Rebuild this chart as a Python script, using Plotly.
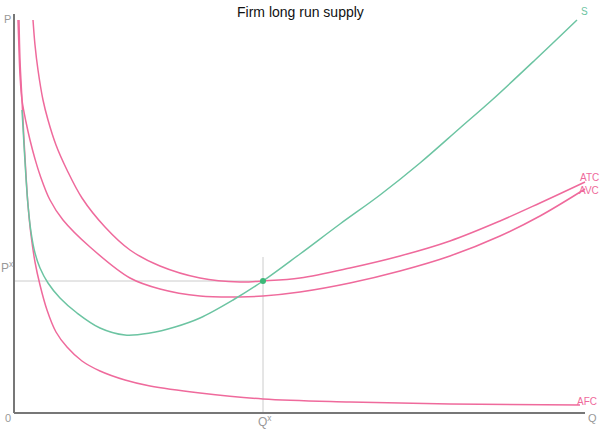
import plotly.graph_objects as go

# ---- data ----
q_afc = [0.5, 0.6, 0.8, 1.0, 1.2, 1.4, 1.7, 2.1, 2.6, 3.3, 4.2, 5.3, 6.8, 8.6, 11.1, 13.6,
         18.6, 24.9, 33.6, 43.6, 56.6]
p_afc = [39.3, 35.3, 31.3, 27.3, 23.8, 20.8, 17.8, 15.1, 12.8, 10.3, 8.1, 6.6, 5.2, 4.2, 3.3, 2.7,
         2.0, 1.4, 1.1, 0.9, 0.8]

q_s = [0.8, 1.0, 1.2, 1.4, 1.7, 2.1, 2.6, 3.4, 4.6, 6.3, 8.6, 11.1, 13.6, 16.1, 18.6, 21.9,
       24.9, 28.6, 32.6, 36.6, 40.6, 44.6, 47.8, 52.1, 56.3]
p_s = [30.3, 26.8, 23.5, 20.8, 18.1, 16.0, 14.5, 13.0, 11.5, 10.0, 8.5, 7.8, 8.0, 8.6, 9.5, 11.3,
       13.2, 15.9, 18.9, 21.8, 25.0, 28.5, 31.3, 35.3, 39.3]

q_atc = [1.9, 2.1, 2.4, 2.9, 3.4, 4.2, 5.3, 6.8, 9.1, 11.6, 14.6, 18.6, 22.6, 24.9, 28.6,
         33.6, 38.6, 43.6, 48.6, 52.6, 57.1]
p_atc = [39.3, 36.8, 34.3, 31.3, 29.3, 26.8, 24.3, 21.5, 18.6, 16.3, 14.7, 13.5, 13.1, 13.2, 13.5,
         14.5, 15.7, 17.2, 19.2, 21.0, 23.1]

q_avc = [0.4, 0.5, 0.6, 0.8, 1.2, 1.6, 2.1, 2.6, 3.6, 4.9, 7.6, 11.6, 14.6, 18.6, 22.6, 24.9,
         28.6, 33.6, 38.6, 43.6, 48.6, 52.6, 57.1]
p_avc = [39.3, 36.3, 33.8, 31.3, 29.1, 27.3, 25.4, 23.8, 21.3, 19.3, 16.6, 13.5, 12.4, 11.7, 11.6, 11.7,
         12.1, 13.0, 14.2, 15.7, 17.7, 19.7, 22.4]

q_star = 24.9
p_star = 13.2
q_max = 57.1
p_max = 39.9
guide_top = 15.6

PINK = "#ef6a9c"
GREEN = "#6cc4a2"
AXIS = "#777777"
GUIDE = "#cccccc"
LABEL = "#999999"

fig = go.Figure()

# guide lines
fig.add_shape(type="line", x0=q_star, x1=q_star, y0=0, y1=guide_top,
              line=dict(color=GUIDE, width=1), layer="below")
fig.add_shape(type="line", x0=0, x1=q_star, y0=p_star, y1=p_star,
              line=dict(color=GUIDE, width=1), layer="below")

for q, p, c in [(q_afc, p_afc, PINK), (q_avc, p_avc, PINK), (q_atc, p_atc, PINK), (q_s, p_s, GREEN)]:
    fig.add_trace(go.Scatter(x=q, y=p, mode="lines",
                             line=dict(color=c, width=1.5, shape="spline", smoothing=1.0),
                             hoverinfo="skip", showlegend=False))

fig.add_trace(go.Scatter(x=[q_star], y=[p_star], mode="markers",
                         marker=dict(color="#3cb878", size=6), showlegend=False))

# axes lines
fig.add_shape(type="line", x0=0, x1=0, y0=0, y1=p_max, line=dict(color=AXIS, width=2))
fig.add_shape(type="line", x0=0, x1=q_max, y0=0, y1=0, line=dict(color=AXIS, width=2))

W, H = 600, 429


def ann(text, px, py, color, size=10, xanchor="center"):
    fig.add_annotation(text=text, x=px / W, y=1 - py / H, xref="paper", yref="paper",
                       showarrow=False, xanchor=xanchor, yanchor="middle",
                       font=dict(color=color, size=size, family="Liberation Sans, Arial, sans-serif"))


ann("Firm long run supply", 300, 12, "#111111", size=14)
ann("P", 7, 19, LABEL, size=11)
ann("0", 8, 418, LABEL, size=11)
ann("Q", 592, 418, LABEL, size=11)
ann("P<sup>x</sup>", 7, 267, LABEL, size=12)
ann("Q<sup>x</sup>", 265, 421, LABEL, size=12)
ann("S", 584, 11, GREEN)
ann("ATC", 589, 177, PINK)
ann("AVC", 589, 190, PINK)
ann("AFC", 587, 401, PINK)

fig.update_layout(
    width=W, height=H,
    margin=dict(l=0, r=0, t=0, b=0),
    paper_bgcolor="white", plot_bgcolor="white",
    xaxis=dict(range=[-1.4, 58.6], visible=False, fixedrange=True),
    yaxis=dict(range=[-1.6, 41.3], visible=False, fixedrange=True),
    showlegend=False,
)

fig.write_html("out.html", config={"displayModeBar": False},
               post_script="document.body.style.margin='0';document.body.style.overflow='hidden';")
